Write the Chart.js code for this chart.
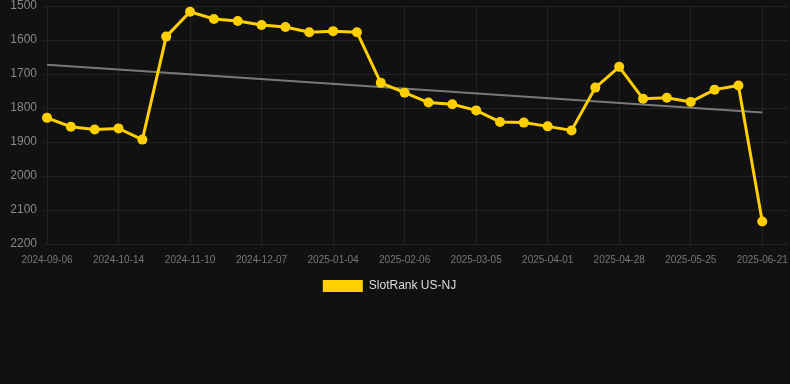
<!DOCTYPE html>
<html>
<head>
<meta charset="utf-8">
<script src="https://cdn.jsdelivr.net/npm/chart.js@4/dist/chart.umd.min.js"></script>
<style>
  html, body { margin: 0; padding: 0; background: #111111; overflow: hidden; }
  #wrap { width: 807px; height: 384px; position: relative; margin-left: -14px; }
</style>
</head>
<body>
<div id="wrap"><canvas id="rank"></canvas></div>
<script>
const dates = [
  '2024-09-06', '2024-09-19', '2024-10-01', '2024-10-14', '2024-10-23', '2024-11-01',
  '2024-11-10', '2024-11-19', '2024-11-28', '2024-12-07', '2024-12-16', '2024-12-25',
  '2025-01-04', '2025-01-15', '2025-01-26', '2025-02-06', '2025-02-15', '2025-02-24',
  '2025-03-05', '2025-03-14', '2025-03-23', '2025-04-01', '2025-04-10', '2025-04-19',
  '2025-04-28', '2025-05-07', '2025-05-16', '2025-05-25', '2025-06-03', '2025-06-12',
  '2025-06-21'
];
const rankNJ = [
  1829, 1855, 1863, 1860, 1893, 1590, 1517, 1538, 1544, 1556, 1562, 1577,
  1574, 1577, 1726, 1755, 1784, 1789, 1807, 1841, 1843, 1854, 1866, 1740,
  1679, 1773, 1770, 1782, 1746, 1734, 2134
];
// trend line, start and end only
const trendEnds = [1673, 1813];
const yTicks = [1500, 1600, 1700, 1800, 1900, 2000, 2100, 2200];

const ctxRank = document.getElementById('rank').getContext('2d');

const rank = new Chart(ctxRank, {
    type: 'line',
    data: {
        datasets: [{
            label: 'SlotRank US-NJ',
            data: rankNJ.map((v, i) => ({ x: i, y: v })),
            borderColor: '#ffd000',
            backgroundColor: '#ffd000',
            borderWidth: 3,
            pointRadius: 5,
            pointBorderWidth: 0,
            pointBackgroundColor: '#ffd000',
            tension: 0,
            clip: false
        },
        {
            label: 'trend',
            data: [{ x: 0, y: trendEnds[0] }, { x: dates.length - 1, y: trendEnds[1] }],
            borderColor: 'rgba(140, 140, 140, 0.85)',
            borderWidth: 2,
            pointRadius: 0
        }]
    },
    options: {
        responsive: true,
        maintainAspectRatio: false,
        animation: false,
        layout: {
            padding: { left: 0, right: 0, top: 0, bottom: 82 }
        },
        plugins: {
            tooltip: { enabled: false },
            legend: {
                position: 'bottom',
                labels: {
                    boxWidth: 40,
                    boxHeight: 12,
                    padding: 4,
                    color: '#dddddd',
                    font: { size: 12 },
                    generateLabels: chart => Chart.defaults.plugins.legend.labels.generateLabels(chart)
                        .filter(item => item.text !== 'trend')
                        .map(item => Object.assign(item, { lineWidth: 0 }))
                }
            }
        },
        scales: {
            x: {
                type: 'linear',
                min: 0,
                max: 31.08,
                grid: { color: '#222222', drawTicks: false },
                border: { display: false },
                ticks: {
                    stepSize: 3,
                    includeBounds: false,
                    autoSkip: false,
                    maxRotation: 0,
                    padding: 10,
                    color: '#777777',
                    font: { size: 10 },
                    callback: v => (Number.isInteger(v) && v % 3 === 0 && dates[v]) ? dates[v] : null
                },
                afterFit: s => {
                    s.paddingLeft = 0;
                    s.paddingRight = 0;
                }
            },
            y: {
                reverse: true,
                min: yTicks[0],
                max: yTicks[yTicks.length - 1],
                grid: { color: '#222222', tickLength: 4 },
                border: { display: false },
                ticks: {
                    stepSize: 100,
                    padding: 6,
                    color: '#888888',
                    font: { size: 12 },
                    callback: v => String(v)
                },
                afterFit: s => {
                    s.width = 61;
                    s.paddingTop = 6;
                }
            }
        }
    }
});
</script>
</body>
</html>
